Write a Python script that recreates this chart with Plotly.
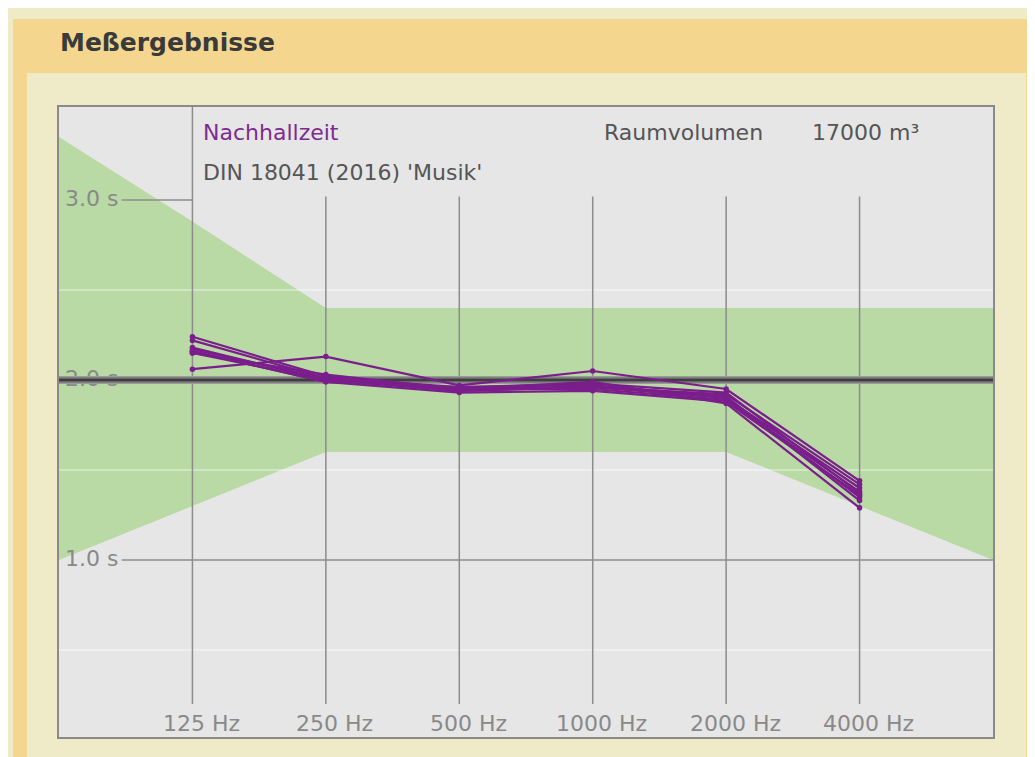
import plotly.graph_objects as go

# ---------------- data ----------------
freq_labels = ["125 Hz", "250 Hz", "500 Hz", "1000 Hz", "2000 Hz", "4000 Hz"]
freq_pos = [0, 1, 2, 3, 4, 5]

# tolerance band (DIN 18041 'Musik'), octave positions -1 (63 Hz) .. 6 (8000 Hz)
band_pos = [-1, 0, 1, 2, 3, 4, 5, 6]
band_upper = [3.35, 2.88, 2.40, 2.40, 2.40, 2.40, 2.40, 2.40]
band_lower = [1.00, 1.30, 1.60, 1.60, 1.60, 1.60, 1.30, 1.00]
t_soll = 2.0

# measured reverberation times (s)
meas_1 = [2.24, 2.02, 1.95, 1.97, 1.90, 1.40]
meas_2 = [2.22, 2.01, 1.94, 1.96, 1.92, 1.42]
meas_3 = [2.18, 2.00, 1.95, 1.95, 1.89, 1.38]
meas_4 = [2.16, 1.99, 1.93, 1.94, 1.88, 1.36]
meas_5 = [2.15, 2.00, 1.94, 1.96, 1.90, 1.35]
meas_6 = [2.17, 2.01, 1.96, 1.98, 1.93, 1.37]
meas_7 = [2.06, 2.13, 1.97, 2.05, 1.95, 1.44]
meas_8 = [2.15, 2.03, 1.95, 1.99, 1.87, 1.29]
meas_9 = [2.16, 1.99, 1.96, 1.97, 1.91, 1.33]
measurements = [meas_1, meas_2, meas_3, meas_4, meas_5, meas_6, meas_7, meas_8, meas_9]

y_ticks = [1.0, 2.0, 3.0]
y_tick_labels = ["1.0 s", "2.0 s", "3.0 s"]
minor_grid = [0.5, 1.5, 2.5]

title_text = "Meßergebnisse"
label_main = "Nachhallzeit"
label_norm = "DIN 18041 (2016) 'Musik'"
label_vol = "Raumvolumen"
label_vol_value = "17000 m³"

# ---------------- style ----------------
FONT = "DejaVu Sans, Verdana, sans-serif"
PURPLE = "#7a1e8c"
GREEN = "#b9d9a5"
GRAY_LINE = "#8c8c8c"
TXT_GRAY = "#898989"
X_MIN, X_MAX = -1, 6
Y_MIN, Y_MAX = 0.0167, 3.5167
TICK_LINE_START = -0.53
V_BOTTOM = 0.2
V_TOP = 3.02

fig = go.Figure()

# green tolerance band
fig.add_trace(go.Scatter(
    x=band_pos + band_pos[::-1],
    y=band_upper + band_lower[::-1],
    fill="toself", fillcolor=GREEN, mode="lines",
    line=dict(width=0, color=GREEN), hoverinfo="skip", showlegend=False))

# light minor grid lines
for g in minor_grid:
    fig.add_trace(go.Scatter(x=[X_MIN, X_MAX], y=[g, g], mode="lines",
                             line=dict(color="rgba(255,255,255,0.35)", width=2),
                             hoverinfo="skip", showlegend=False))

# vertical frequency lines
for i, p in enumerate(freq_pos):
    top = Y_MAX if i == 0 else V_TOP
    fig.add_trace(go.Scatter(x=[p, p], y=[V_BOTTOM, top], mode="lines",
                             line=dict(color=GRAY_LINE, width=1.5),
                             hoverinfo="skip", showlegend=False))

# horizontal tick lines (3.0 short, 1.0 full)
fig.add_trace(go.Scatter(x=[TICK_LINE_START, freq_pos[0]], y=[y_ticks[2]] * 2, mode="lines",
                         line=dict(color=GRAY_LINE, width=1.5), hoverinfo="skip", showlegend=False))
fig.add_trace(go.Scatter(x=[TICK_LINE_START, X_MAX], y=[y_ticks[0]] * 2, mode="lines",
                         line=dict(color=GRAY_LINE, width=1.5), hoverinfo="skip", showlegend=False))

# y tick labels as text (below the thick reference line)
fig.add_trace(go.Scatter(x=[X_MIN + 0.045] * 3, y=y_ticks, text=y_tick_labels, mode="text",
                         textposition="middle right",
                         textfont=dict(family=FONT, size=22, color=TXT_GRAY),
                         hoverinfo="skip", showlegend=False))

# thick reference line at T_soll
for w, c in [(8, "#9a9a9a"), (5, "#666666"), (2, "#3e3e3e")]:
    fig.add_trace(go.Scatter(x=[X_MIN, X_MAX], y=[t_soll, t_soll], mode="lines",
                             line=dict(color=c, width=w), hoverinfo="skip", showlegend=False))

# measurement lines
for m in measurements:
    fig.add_trace(go.Scatter(x=freq_pos, y=m, mode="lines+markers",
                             line=dict(color=PURPLE, width=2.2),
                             marker=dict(color=PURPLE, size=5.5),
                             showlegend=False))

# ---------------- page background (paper coords) ----------------
# the page body has an 8px margin; all positions below are page pixels
OFF = 8
PAGE_W, PAGE_H = 1035, 757
W, H = PAGE_W - OFF, PAGE_H - OFF
PLOT_L, PLOT_R, PLOT_T, PLOT_B = 59, 993, 107, 737
L, T = PLOT_L - OFF, PLOT_T - OFF
R, B = W - (PLOT_R - OFF), H - (PLOT_B - OFF)
pw, ph = W - L - R, H - T - B


def px(xp):
    return (xp - OFF - L) / pw


def py(yp):
    return (H - B - (yp - OFF)) / ph


shapes = [
    dict(type="rect", xref="paper", yref="paper", x0=px(6), x1=px(PAGE_W + 5), y0=py(8), y1=py(PAGE_H + 5),
         fillcolor="#f0ebc7", line=dict(width=0), layer="below"),
    dict(type="rect", xref="paper", yref="paper", x0=px(13), x1=px(PAGE_W + 5), y0=py(19), y1=py(PAGE_H + 5),
         fillcolor="#f4d68e", line=dict(width=0), layer="below"),
    dict(type="rect", xref="paper", yref="paper", x0=px(27), x1=px(1026), y0=py(73), y1=py(PAGE_H + 5),
         fillcolor="#efebc8", line=dict(width=0), layer="below"),
    dict(type="rect", xref="paper", yref="paper", x0=0, x1=1, y0=0, y1=1,
         fillcolor="#e6e6e6", line=dict(width=0), layer="below"),
]

annotations = [
    dict(text=title_text, xref="paper", yref="paper", x=px(58), y=py(43), xanchor="left",
         yanchor="middle", showarrow=False, font=dict(family=FONT, size=25, color="#3a3a3a", weight="bold")),
    dict(text=label_main, xref="paper", yref="paper", x=px(201), y=py(133), xanchor="left",
         yanchor="middle", showarrow=False, font=dict(family=FONT, size=22, color="#7d2b90")),
    dict(text=label_norm, xref="paper", yref="paper", x=px(201), y=py(172), xanchor="left",
         yanchor="middle", showarrow=False, font=dict(family=FONT, size=22, color="#555555")),
    dict(text=label_vol, xref="paper", yref="paper", x=px(602), y=py(133), xanchor="left",
         yanchor="middle", showarrow=False, font=dict(family=FONT, size=22, color="#555555")),
    dict(text=label_vol_value, xref="paper", yref="paper", x=px(810), y=py(133), xanchor="left",
         yanchor="middle", showarrow=False, font=dict(family=FONT, size=22, color="#555555")),
]
for p, lab in zip(freq_pos, freq_labels):
    annotations.append(dict(text=lab, xref="x", yref="paper", x=p, y=py(723), xanchor="center",
                            yanchor="middle", xshift=9, showarrow=False,
                            font=dict(family=FONT, size=22, color=TXT_GRAY)))

fig.update_layout(
    width=W, height=H,
    margin=dict(l=L, r=R, t=T, b=B, pad=0),
    paper_bgcolor="white",
    plot_bgcolor="#e6e6e6",
    shapes=shapes,
    annotations=annotations,
    showlegend=False,
    xaxis=dict(range=[X_MIN, X_MAX], showgrid=False, zeroline=False, showticklabels=False,
               ticks="", showline=True, mirror=True, linecolor="#8a8a8a", linewidth=2, fixedrange=True),
    yaxis=dict(range=[Y_MIN, Y_MAX], showgrid=False, zeroline=False, showticklabels=False,
               ticks="", showline=True, mirror=True, linecolor="#8a8a8a", linewidth=2, fixedrange=True),
)

fig.write_html("out.html", config={"displayModeBar": False})
